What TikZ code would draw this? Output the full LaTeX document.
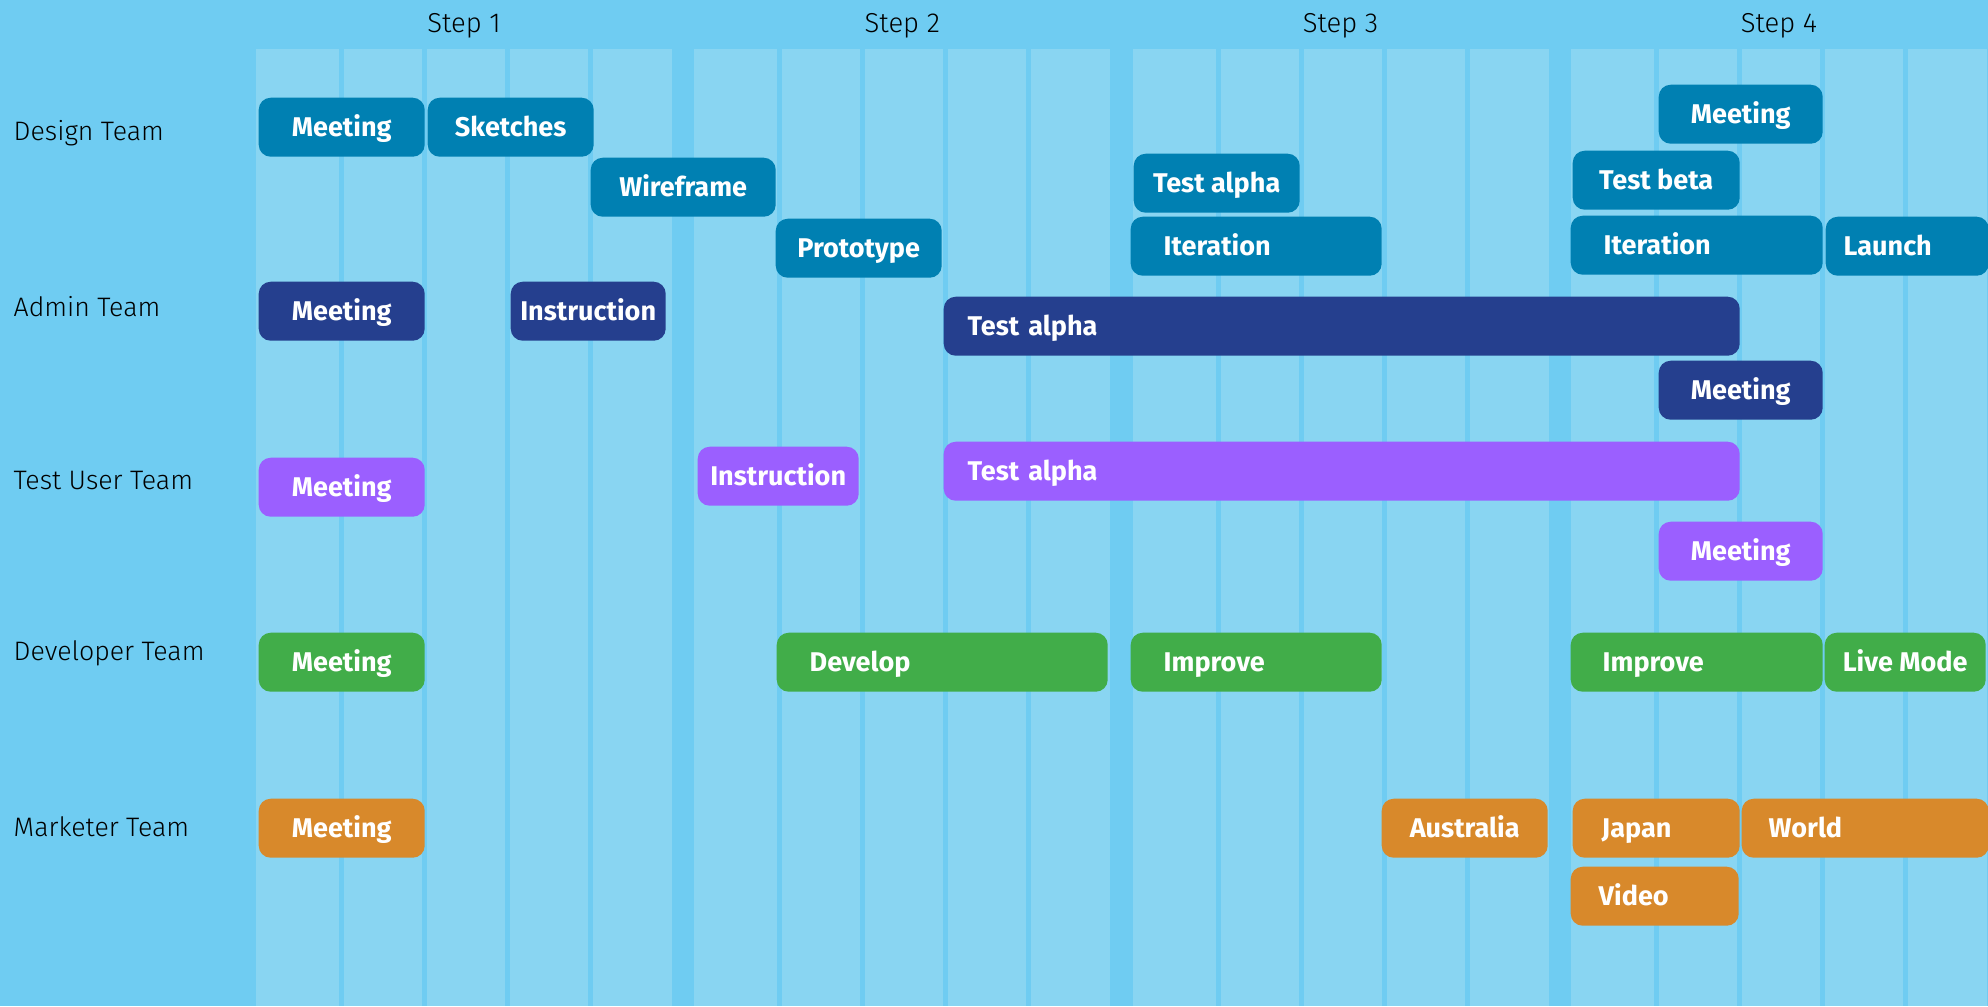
\documentclass[tikz,border=0pt]{standalone}
\usepackage{fontspec}
\setmainfont{Fira Sans}
\newfontfamily\lightfont{Fira Sans Light}
\usetikzlibrary{positioning}

\definecolor{bgblue}{RGB}{111,204,242}
\definecolor{stripblue}{RGB}{137,213,242}
\definecolor{dsncol}{RGB}{0,128,178}
\definecolor{admcol}{RGB}{37,63,142}
\definecolor{usrcol}{RGB}{155,95,255}
\definecolor{devcol}{RGB}{65,173,73}
\definecolor{mktcol}{RGB}{216,137,43}

\tikzset{
  task/.style={anchor=north west, rounded corners=0.12cm, minimum height=0.59cm,
    inner sep=0pt, text height=6pt, text depth=0.7pt, text=white,
    font=\fontsize{7.7}{9}\selectfont\bfseries},
  lft/.style 2 args={text width=#1, inner xsep=#2, align=left},
  dsn/.style={task, fill=dsncol},
  adm/.style={task, fill=admcol},
  usr/.style={task, fill=usrcol},
  dev/.style={task, fill=devcol},
  mkt/.style={task, fill=mktcol},
  team/.style={anchor=west, inner sep=0pt, font=\lightfont\fontsize{7.6}{9}\selectfont},
  steplbl/.style={inner sep=0pt, text height=5.6pt, text depth=1.6pt,
    font=\lightfont\fontsize{7.8}{9}\selectfont}
}

\begin{document}
\begin{tikzpicture}
\useasboundingbox (0,0) rectangle (19.88,-10.06);
\fill[bgblue] (0,0) rectangle (19.88,-10.06);
% Columns
\foreach \s in {0,...,3}{
  \fill[stripblue] ({2.56+4.383*\s},-0.49) rectangle ++(4.16,-9.57);
  \foreach \c in {0,...,3}
    \fill[bgblue] ({2.56+4.383*\s+0.83+0.83*\c},-0.49) rectangle ++(0.05,-9.57);
}
% Steps
\foreach \s in {1,...,4}
  \node[steplbl] (step\s) at ({2.56+4.383*(\s-1)+2.08},-0.25) {Step \s};
% Teams
\node[team] (tdes) at (0.13,-1.33) {Design Team};
\node[team] (tadm) at (0.13,-3.07) {Admin Team};
\node[team] (tusr) at (0.13,-4.80) {Test User Team};
\node[team] (tdev) at (0.13,-6.53) {Developer Team};
\node[team] (tmkt) at (0.13,-8.27) {Marketer Team};
% Design Team
\node[dsn, minimum width=1.66cm] (d1) at (2.58,-0.97) {Meeting};
\node[dsn, minimum width=1.66cm] (d2) at (4.27,-0.97) {Sketches};
\node[dsn, minimum width=1.85cm] (d3) at (5.90,-1.57) {Wireframe};
\node[dsn, minimum width=1.66cm] (d4) at (7.75,-2.18) {Prototype};
\node[dsn, minimum width=1.66cm] (d5) at (11.33,-1.53) {Test alpha};
\node[dsn, lft={1.85cm}{0.33cm}] (d6) at (11.30,-2.16) {Iteration};
\node[dsn, minimum width=1.64cm] (d7) at (16.58,-0.84) {Meeting};
\node[dsn, minimum width=1.67cm] (d8) at (15.72,-1.50) {Test beta};
\node[dsn, lft={1.86cm}{0.33cm}] (d9) at (15.70,-2.15) {Iteration};
\node[dsn, lft={1.27cm}{0.18cm}] (d10) at (18.25,-2.16) {Launch};
% Admin Team
\node[adm, minimum width=1.66cm] (a1) at (2.58,-2.81) {Meeting};
\node[adm, minimum width=1.55cm] (a2) at (5.10,-2.81) {Instruction};
\node[adm, lft={7.48cm}{0.24cm}] (a3) at (9.43,-2.96) {Test alpha};
\node[adm, minimum width=1.64cm] (a4) at (16.58,-3.60) {Meeting};
% Test User Team
\node[usr, minimum width=1.66cm] (u1) at (2.58,-4.57) {Meeting};
\node[usr, minimum width=1.61cm] (u2) at (6.97,-4.46) {Instruction};
\node[usr, lft={7.48cm}{0.24cm}] (u3) at (9.43,-4.41) {Test alpha};
\node[usr, minimum width=1.64cm] (u4) at (16.58,-5.21) {Meeting};
% Developer Team
\node[dev, minimum width=1.66cm] (v1) at (2.58,-6.32) {Meeting};
\node[dev, lft={2.65cm}{0.33cm}] (v2) at (7.76,-6.32) {Develop};
\node[dev, lft={1.85cm}{0.33cm}] (v3) at (11.30,-6.32) {Improve};
\node[dev, lft={1.88cm}{0.32cm}] (v4) at (15.70,-6.32) {Improve};
\node[dev, minimum width=1.61cm] (v5) at (18.24,-6.32) {Live Mode};
% Marketer Team
\node[mkt, minimum width=1.66cm] (m1) at (2.58,-7.98) {Meeting};
\node[mkt, minimum width=1.66cm] (m2) at (13.81,-7.98) {Australia};
\node[mkt, lft={1.09cm}{0.29cm}] (m3) at (15.72,-7.98) {Japan};
\node[mkt, lft={1.93cm}{0.27cm}] (m4) at (17.41,-7.98) {World};
\node[mkt, lft={1.12cm}{0.28cm}] (m5) at (15.70,-8.66) {Video};
\end{tikzpicture}
\end{document}
